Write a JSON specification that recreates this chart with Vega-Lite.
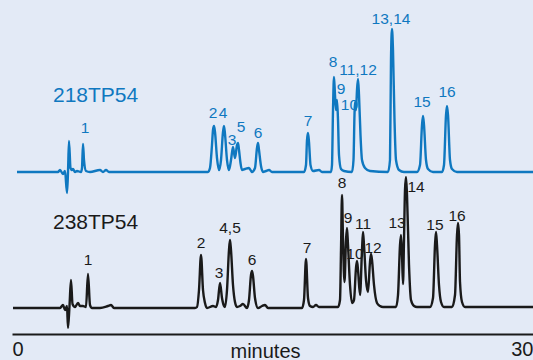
{
  "$schema": "https://vega.github.io/schema/vega-lite/v6.json",
  "autosize": {"type": "none"},
  "width": 521,
  "height": 334,
  "padding": {"left": 12, "top": 0, "right": 0, "bottom": 26},
  "background": "#e3eaf6",
  "config": {"view": {"stroke": null}, "font": "Liberation Sans"},
  "datasets": {
    "black": [
      {"t":0.058,"s":26},{"t":2.764,"s":26},{"t":2.937,"s":29},{"t":3.052,"s":24},{"t":3.167,"s":28},{"t":3.225,"s":6},{"t":3.311,"s":28},{"t":3.397,"s":54},{"t":3.484,"s":30},{"t":3.628,"s":27},{"t":3.8,"s":31},{"t":3.916,"s":28},{"t":4.088,"s":28},{"t":4.261,"s":27},{"t":4.376,"s":60},{"t":4.491,"s":29},{"t":4.607,"s":26},{"t":5.067,"s":26},{"t":5.528,"s":28},{"t":5.701,"s":29},{"t":5.873,"s":26},{"t":10.538,"s":26},
      {"t":10.653,"s":27},{"t":10.768,"s":44},{"t":10.883,"s":79},{"t":10.998,"s":44},{"t":11.113,"s":31},{"t":11.229,"s":26},{"t":11.574,"s":28},{"t":11.747,"s":27},
      {"t":11.862,"s":34},{"t":11.977,"s":51},{"t":12.092,"s":36},{"t":12.207,"s":28},{"t":12.265,"s":27},
      {"t":12.38,"s":44},{"t":12.495,"s":84},{"t":12.553,"s":94},{"t":12.61,"s":84},{"t":12.725,"s":49},{"t":12.84,"s":32},{"t":12.956,"s":27},{"t":13.128,"s":28},{"t":13.301,"s":30},{"t":13.531,"s":26},
      {"t":13.647,"s":34},{"t":13.762,"s":59},{"t":13.82,"s":63},{"t":13.877,"s":58},{"t":13.992,"s":36},{"t":14.165,"s":26},{"t":14.395,"s":28},{"t":14.568,"s":29},{"t":14.741,"s":26},{"t":16.699,"s":26},
      {"t":16.814,"s":34},{"t":16.929,"s":75},{"t":17.044,"s":36},{"t":17.16,"s":28},{"t":17.332,"s":27},{"t":17.505,"s":29},{"t":17.678,"s":27},{"t":18.772,"s":27},
      {"t":18.887,"s":34},{"t":18.945,"s":84},{"t":19.002,"s":139},{"t":19.06,"s":94},{"t":19.146,"s":52},{"t":19.232,"s":94},{"t":19.29,"s":106},{"t":19.348,"s":89},{"t":19.463,"s":49},{"t":19.578,"s":31},
      {"t":19.693,"s":34},{"t":19.808,"s":66},{"t":19.866,"s":73},{"t":19.924,"s":64},{"t":20.039,"s":39},
      {"t":20.154,"s":84},{"t":20.211,"s":102},{"t":20.269,"s":89},{"t":20.384,"s":54},{"t":20.499,"s":42},
      {"t":20.614,"s":72},{"t":20.672,"s":80},{"t":20.729,"s":74},{"t":20.845,"s":49},{"t":21.017,"s":31},{"t":21.19,"s":28},{"t":21.363,"s":27},{"t":22.111,"s":27},
      {"t":22.227,"s":39},{"t":22.342,"s":89},{"t":22.399,"s":99},{"t":22.457,"s":79},{"t":22.515,"s":50},{"t":22.572,"s":94},{"t":22.63,"s":144},{"t":22.687,"s":157},{"t":22.745,"s":139},{"t":22.86,"s":69},{"t":22.975,"s":34},{"t":23.148,"s":28},{"t":23.321,"s":27},{"t":24.069,"s":27},
      {"t":24.242,"s":36},{"t":24.357,"s":89},{"t":24.415,"s":102},{"t":24.472,"s":89},{"t":24.587,"s":49},{"t":24.703,"s":32},{"t":24.875,"s":27},{"t":25.336,"s":27},
      {"t":25.509,"s":39},{"t":25.624,"s":99},{"t":25.681,"s":111},{"t":25.739,"s":99},{"t":25.797,"s":52},{"t":25.912,"s":32},{"t":26.085,"s":27},{"t":30.0,"s":27}
    ],
    "blue": [
      {"t":0.288,"s":162},{"t":2.649,"s":162},{"t":2.764,"s":164},{"t":2.937,"s":160},{"t":3.052,"s":163},{"t":3.167,"s":141},{"t":3.225,"s":162},{"t":3.282,"s":193},{"t":3.369,"s":166},{"t":3.455,"s":164},{"t":3.512,"s":165},{"t":3.628,"s":162},{"t":3.743,"s":163},{"t":3.973,"s":162},
      {"t":4.031,"s":166},{"t":4.088,"s":190},{"t":4.146,"s":174},{"t":4.261,"s":163},{"t":4.491,"s":162},{"t":5.067,"s":164},{"t":5.24,"s":162},{"t":5.413,"s":164},{"t":5.585,"s":162},{"t":11.286,"s":162},
      {"t":11.401,"s":166},{"t":11.516,"s":189},{"t":11.574,"s":204},{"t":11.632,"s":208},{"t":11.689,"s":202},{"t":11.804,"s":176},{"t":11.92,"s":164},
      {"t":12.035,"s":174},{"t":12.15,"s":202},{"t":12.207,"s":208},{"t":12.265,"s":200},{"t":12.38,"s":174},{"t":12.495,"s":164},
      {"t":12.611,"s":174},{"t":12.726,"s":187},{"t":12.841,"s":176},{"t":12.956,"s":189},{"t":13.013,"s":191},{"t":13.071,"s":184},{"t":13.157,"s":171},{"t":13.243,"s":164},{"t":13.416,"s":165},{"t":13.647,"s":166},{"t":13.819,"s":162},
      {"t":13.992,"s":166},{"t":14.107,"s":186},{"t":14.165,"s":191},{"t":14.222,"s":184},{"t":14.338,"s":168},{"t":14.453,"s":162},{"t":14.626,"s":163},{"t":14.799,"s":164},{"t":14.971,"s":162},{"t":16.814,"s":162},
      {"t":16.929,"s":169},{"t":16.987,"s":194},{"t":17.044,"s":201},{"t":17.102,"s":192},{"t":17.188,"s":169},{"t":17.332,"s":163},{"t":17.678,"s":164},{"t":17.85,"s":162},{"t":18.369,"s":162},
      {"t":18.426,"s":169},{"t":18.484,"s":224},{"t":18.541,"s":257},{"t":18.599,"s":239},{"t":18.657,"s":224},{"t":18.714,"s":234},{"t":18.772,"s":214},{"t":18.829,"s":179},{"t":18.945,"s":165},{"t":19.117,"s":163},{"t":19.578,"s":162},
      {"t":19.664,"s":174},{"t":19.721,"s":219},{"t":19.75,"s":232},{"t":19.808,"s":224},{"t":19.866,"s":244},{"t":19.924,"s":255},{"t":19.981,"s":239},{"t":20.067,"s":199},{"t":20.154,"s":174},{"t":20.326,"s":166},{"t":20.614,"s":163},{"t":21.65,"s":162},
      {"t":21.766,"s":174},{"t":21.823,"s":274},{"t":21.881,"s":305},{"t":21.938,"s":284},{"t":22.025,"s":214},{"t":22.111,"s":174},{"t":22.284,"s":164},{"t":22.572,"s":162},{"t":23.321,"s":162},
      {"t":23.494,"s":169},{"t":23.609,"s":209},{"t":23.667,"s":218},{"t":23.724,"s":209},{"t":23.839,"s":174},{"t":23.955,"s":165},{"t":24.242,"s":162},{"t":24.76,"s":162},
      {"t":24.875,"s":169},{"t":24.991,"s":219},{"t":25.048,"s":228},{"t":25.106,"s":219},{"t":25.221,"s":174},{"t":25.336,"s":165},{"t":25.624,"s":162},{"t":30.0,"s":162}
    ],
    "peaks": [
      {"label":"1","t":4.203,"s":201,"trace":"218TP54"},
      {"label":"2","t":11.574,"s":216,"trace":"218TP54"},
      {"label":"4","t":12.15,"s":216,"trace":"218TP54"},
      {"label":"3","t":12.668,"s":189,"trace":"218TP54"},
      {"label":"5","t":13.186,"s":202,"trace":"218TP54"},
      {"label":"6","t":14.165,"s":196,"trace":"218TP54"},
      {"label":"7","t":17.044,"s":208,"trace":"218TP54"},
      {"label":"8","t":18.484,"s":267,"trace":"218TP54"},
      {"label":"9","t":18.945,"s":240,"trace":"218TP54"},
      {"label":"10","t":19.43,"s":224,"trace":"218TP54"},
      {"label":"11,12","t":19.924,"s":259,"trace":"218TP54"},
      {"label":"13,14","t":21.823,"s":310,"trace":"218TP54"},
      {"label":"15","t":23.609,"s":227,"trace":"218TP54"},
      {"label":"16","t":25.048,"s":237,"trace":"218TP54"},
      {"label":"1","t":4.376,"s":69,"trace":"238TP54"},
      {"label":"2","t":10.883,"s":86,"trace":"238TP54"},
      {"label":"3","t":11.92,"s":56,"trace":"238TP54"},
      {"label":"4,5","t":12.553,"s":101,"trace":"238TP54"},
      {"label":"6","t":13.82,"s":69,"trace":"238TP54"},
      {"label":"7","t":16.987,"s":81,"trace":"238TP54"},
      {"label":"8","t":19.002,"s":146,"trace":"238TP54"},
      {"label":"9","t":19.348,"s":111,"trace":"238TP54"},
      {"label":"10","t":19.75,"s":75,"trace":"238TP54"},
      {"label":"11","t":20.211,"s":105,"trace":"238TP54"},
      {"label":"12","t":20.787,"s":81,"trace":"238TP54"},
      {"label":"13","t":22.169,"s":106,"trace":"238TP54"},
      {"label":"14","t":23.263,"s":142,"trace":"238TP54"},
      {"label":"15","t":24.357,"s":104,"trace":"238TP54"},
      {"label":"16","t":25.624,"s":113,"trace":"238TP54"}
    ],
    "names": [
      {"label":"218TP54","t":2.361,"s":232,"trace":"218TP54"},
      {"label":"238TP54","t":2.361,"s":105,"trace":"238TP54"}
    ]
  },
  "encoding": {
    "x": {"field": "t", "type": "quantitative", "scale": {"domain": [0, 30], "nice": false, "zero": false}},
    "y": {"field": "s", "type": "quantitative", "scale": {"domain": [0, 334], "nice": false}, "axis": null}
  },
  "layer": [
    {
      "data": {"name": "blue"},
      "mark": {"type": "line", "color": "#0f78c0", "strokeWidth": 2.4, "interpolate": "monotone"},
      "encoding": {
        "x": {"field": "t", "type": "quantitative", "axis": {"values": [0, 30], "labelFlush": true, "ticks": false, "grid": false, "domainColor": "#1a1a1a", "domainWidth": 2, "labelFontSize": 20, "labelColor": "#1a1a1a", "labelPadding": 5, "labelFont": "Liberation Sans", "title": "minutes", "titleFontSize": 20, "titleFontWeight": "normal", "titleColor": "#1a1a1a", "titleFont": "Liberation Sans", "titleBaseline": "alphabetic", "titleY": 23, "titleX": 253}}
      }
    },
    {
      "data": {"name": "black"},
      "mark": {"type": "line", "color": "#1a1a1a", "strokeWidth": 2.4, "interpolate": "monotone"}
    },
    {
      "data": {"name": "peaks"},
      "mark": {"type": "text", "fontSize": 15.5, "font": "Liberation Sans Narrow, Liberation Sans", "baseline": "alphabetic", "align": "center"},
      "encoding": {
        "text": {"field": "label"},
        "color": {"field": "trace", "type": "nominal", "scale": {"domain": ["218TP54", "238TP54"], "range": ["#0f78c0", "#1a1a1a"]}, "legend": null}
      }
    },
    {
      "data": {"name": "names"},
      "mark": {"type": "text", "fontSize": 21, "font": "Liberation Sans", "baseline": "alphabetic", "align": "left"},
      "encoding": {
        "text": {"field": "label"},
        "color": {"field": "trace", "type": "nominal", "scale": {"domain": ["218TP54", "238TP54"], "range": ["#0f78c0", "#1a1a1a"]}, "legend": null}
      }
    }
  ]
}
